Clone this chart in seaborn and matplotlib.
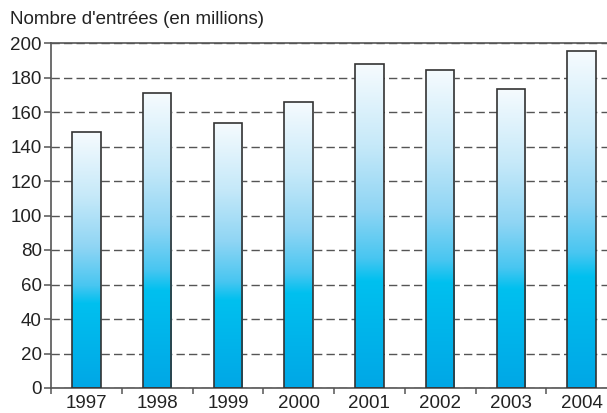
import numpy as np
import pandas as pd
import matplotlib
matplotlib.use("Agg")
import matplotlib.pyplot as plt
from matplotlib.colors import LinearSegmentedColormap
import seaborn as sns

# Cinema admissions per year, in millions
years = ["1997", "1998", "1999", "2000", "2001", "2002", "2003", "2004"]
entries = [148.4, 170.8, 153.8, 166.0, 187.6, 184.6, 173.6, 195.3]
y_ticks = [0, 20, 40, 60, 80, 100, 120, 140, 160, 180, 200]
title = "Nombre d'entrées (en millions)"

sns.set_theme(style="white")
plt.rcParams["font.family"] = ["Liberation Sans", "DejaVu Sans"]
text_color = "#222222"
font_size = 13.5

df = pd.DataFrame({"year": years, "entries": entries})

fig = plt.figure(figsize=(6.07, 4.13), dpi=100)
W, H = 607, 413
ax = fig.add_axes([51 / W, (H - 388) / H, (617 - 51) / W, (388 - 43) / H])

sns.barplot(data=df, x="year", y="entries", ax=ax, width=0.4,
            color="#00b4ec", edgecolor="#333333", linewidth=1.2,
            saturation=1, zorder=3)

# Vertical gradient fill inside each bar: deep cyan at the base, near white at the top
cmap = LinearSegmentedColormap.from_list("bar_fill", [
    (0.00, "#00a7e6"),
    (0.33, "#00c0ef"),
    (0.40, "#48c6f1"),
    (0.55, "#8fd5f4"),
    (0.75, "#c6e9f9"),
    (1.00, "#f6fbfe"),
])
grad = np.linspace(0, 1, 256).reshape(-1, 1)
for patch in ax.patches:
    x0, y0 = patch.get_x(), patch.get_y()
    w, h = patch.get_width(), patch.get_height()
    patch.set_facecolor("none")
    im = ax.imshow(grad, cmap=cmap, origin="lower", aspect="auto",
                   extent=(x0, x0 + w, y0, y0 + h), zorder=2.5,
                   interpolation="bilinear")
    im.set_clip_path(patch)

ax.set_xlim(-0.5, len(years) - 0.5)
ax.set_ylim(0, 200)
ax.set_yticks(y_ticks)
ax.set_xlabel("")
ax.set_ylabel("")

# Dashed horizontal grid behind the bars
ax.set_axisbelow(True)
ax.yaxis.grid(True, linestyle=(0, (6, 3)), linewidth=1.0, color="#555555", zorder=0)
ax.xaxis.grid(False)

for side in ["left", "top", "bottom"]:
    ax.spines[side].set_visible(True)
    ax.spines[side].set_color("#555555")
    ax.spines[side].set_linewidth(1.2)
ax.spines["right"].set_visible(False)

# Category labels under the bars, tick marks at the category boundaries
ax.set_xticks(np.arange(-0.5, len(years) - 0.5, 1.0), minor=True)
ax.tick_params(axis="x", which="major", length=0, pad=5, labelsize=font_size,
               labelcolor=text_color)
ax.tick_params(axis="x", which="minor", length=4, width=1.1, color="#555555",
               direction="out", bottom=True)
ax.tick_params(axis="y", which="major", length=5, width=1.1, color="#555555",
               direction="out", left=True, pad=1.5, labelsize=font_size,
               labelcolor=text_color)

fig.text(10 / W, 1 - 19 / H, title, ha="left", va="center", fontsize=font_size,
         color=text_color)

fig.savefig("out.png", dpi=100)
